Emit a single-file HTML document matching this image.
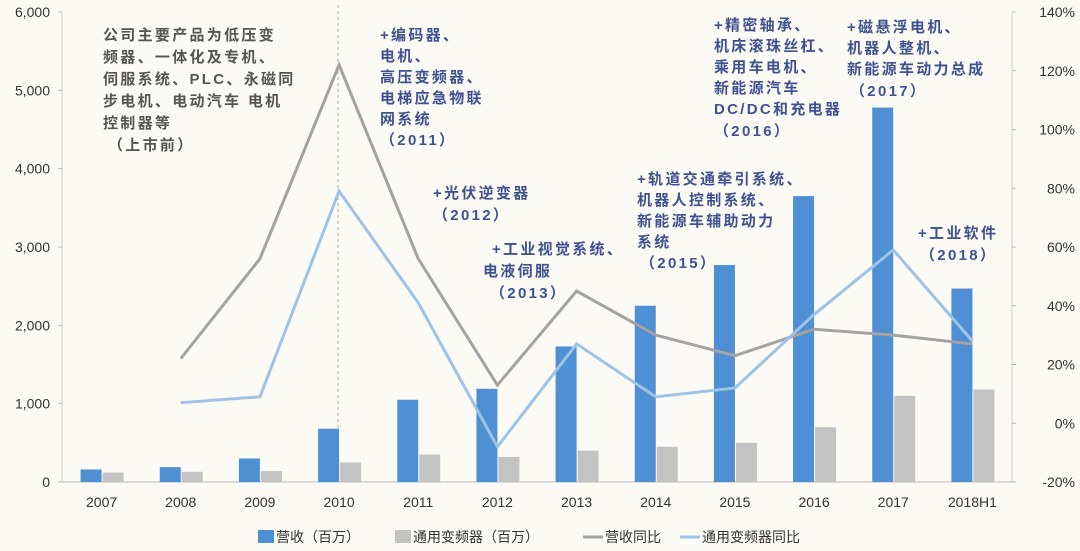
<!DOCTYPE html>
<html><head><meta charset="utf-8"><style>
body{margin:0;background:#fbfaf4;}
svg{display:block;font-family:"Liberation Sans","Noto Sans CJK SC",sans-serif;}
.ann{font-size:15px;font-weight:bold;letter-spacing:2.3px;}
</style></head><body>
<svg id="c" width="1080" height="551">
<rect width="1080" height="551" fill="#fbfaf4"/>
<line x1="338" y1="5" x2="338" y2="482" stroke="#aaa" stroke-dasharray="3,3"/>
<g class="ann" fill="#555">
<text x="103" y="40">公司主要产品为低压变</text><text x="103" y="62">频器、一体化及专机、</text><text x="103" y="84">伺服系统、PLC、永磁同</text><text x="103" y="106">步电机、电动汽车 电机</text><text x="103" y="128">控制器等</text><text x="108" y="150">（上市前）</text></g>
<g class="ann" fill="#3e5291">
<g><text x="380" y="40">+编码器、</text><text x="380" y="61">电机、</text><text x="380" y="82">高压变频器、</text><text x="380" y="103">电梯应急物联</text><text x="380" y="124">网系统</text><text x="380" y="145">（2011）</text></g>
<g><text x="433" y="198">+光伏逆变器</text><text x="433" y="220">（2012）</text></g>
<g><text x="492" y="254">+工业视觉系统、</text><text x="483" y="276">电液伺服</text><text x="490" y="298">（2013）</text></g>
<g><text x="637" y="184">+轨道交通牵引系统、</text><text x="637" y="205">机器人控制系统、</text><text x="637" y="226">新能源车辅助动力</text><text x="637" y="247">系统</text><text x="640" y="268">（2015）</text></g>
<g><text x="714" y="30">+精密轴承、</text><text x="714" y="51">机床滚珠丝杠、</text><text x="714" y="72">乘用车电机、</text><text x="714" y="93">新能源汽车</text><text x="714" y="114">DC/DC和充电器</text><text x="714" y="136">（2016）</text></g>
<g><text x="847" y="32">+磁悬浮电机、</text><text x="847" y="53">机器人整机、</text><text x="847" y="74">新能源车动力总成</text><text x="850" y="96">（2017）</text></g>
<g><text x="918" y="238">+工业软件</text><text x="920" y="260">（2018）</text></g>
</g>
</svg>
<script>
const categories=["2007","2008","2009","2010","2011","2012","2013","2014","2015","2016","2017","2018H1"];
const revenue=[160,190,300,680,1050,1190,1730,2250,2770,3650,4780,2470];
const inverter=[120,130,140,250,350,320,400,450,500,700,1100,1180];
const revenueYoy=[null,22,56,122,56,13,45,30,23,32,30,27];
const inverterYoy=[null,7,9,79,41,-8,27,9,12,37,59,28];
const leftTicks=[0,1000,2000,3000,4000,5000,6000];
const rightTicks=[-20,0,20,40,60,80,100,120,140];
const svg=document.getElementById('c');const NS='http://www.w3.org/2000/svg';
const X0=62,X1=1012,Y0=482,Y1=12;
const step=(X1-X0)/categories.length;
const xc=i=>X0+step*(i+0.5);
const yL=v=>Y0-(v/6000)*(Y0-Y1);
const yR=v=>Y0-((v+20)/160)*(Y0-Y1);
function mk(t,a){const e=document.createElementNS(NS,t);for(const k in a)e.setAttribute(k,a[k]);svg.appendChild(e);return e;}
let e=mk('line',{x1:X0,y1:Y0,x2:X1,y2:Y0,stroke:'#bbb'});


e=mk('line',{x1:X0,y1:Y1,x2:X0,y2:Y0,stroke:'#ccc'});


e=mk('line',{x1:X1,y1:Y1,x2:X1,y2:Y0,stroke:'#ccc'});


leftTicks.forEach(v=>{const y=yL(v);mk('line',{x1:X0-4,y1:y,x2:X0,y2:y,stroke:'#bbb'});
e=mk('text',{x:X0-12,y:y+5,'text-anchor':'end','font-size':14,fill:'#333'});e.textContent=v.toLocaleString('en-US');

});
rightTicks.forEach(v=>{const y=yR(v);mk('line',{x1:X1,y1:y,x2:X1+4,y2:y,stroke:'#bbb'});
e=mk('text',{x:1075,y:y+5,'text-anchor':'end','font-size':14,fill:'#333'});e.textContent=v+'%';

});
categories.forEach((c,i)=>{
e=mk('rect',{x:xc(i)-21,y:yL(revenue[i]),width:21,height:Y0-yL(revenue[i]),fill:'#4f8fd3'});


e=mk('rect',{x:xc(i)+1,y:yL(inverter[i]),width:21,height:Y0-yL(inverter[i]),fill:'#c3c3c3'});


e=mk('text',{x:xc(i),y:507,'text-anchor':'middle','font-size':14,fill:'#333'});e.textContent=c;

});
function line(arr,col,name){const p=[];arr.forEach((v,i)=>{if(v!==null)p.push(xc(i)+','+yR(v));});
const l=mk('polyline',{points:p.join(' '),fill:'none',stroke:col,'stroke-width':3});

}
line(revenueYoy,'#a3a3a3','revenue-yoy-line');
line(inverterYoy,'#9dc3e6','inverter-yoy-line');
const leg=[['rect','#4f8fd3','营收（百万）',258],['rect','#c3c3c3','通用变频器（百万）',395],['line','#a3a3a3','营收同比',583],['line','#9dc3e6','通用变频器同比',680]];
leg.forEach(([t,c,l,x])=>{
if(t==='rect')e=mk('rect',{x:x,y:530,width:16,height:13,fill:c});else e=mk('line',{x1:x,y1:537,x2:x+20,y2:537,stroke:c,'stroke-width':3});


e=mk('text',{x:x+(t==='rect'?18:22),y:542,'font-size':14,fill:'#333'});e.textContent=l;

});
</script>
</body></html>
